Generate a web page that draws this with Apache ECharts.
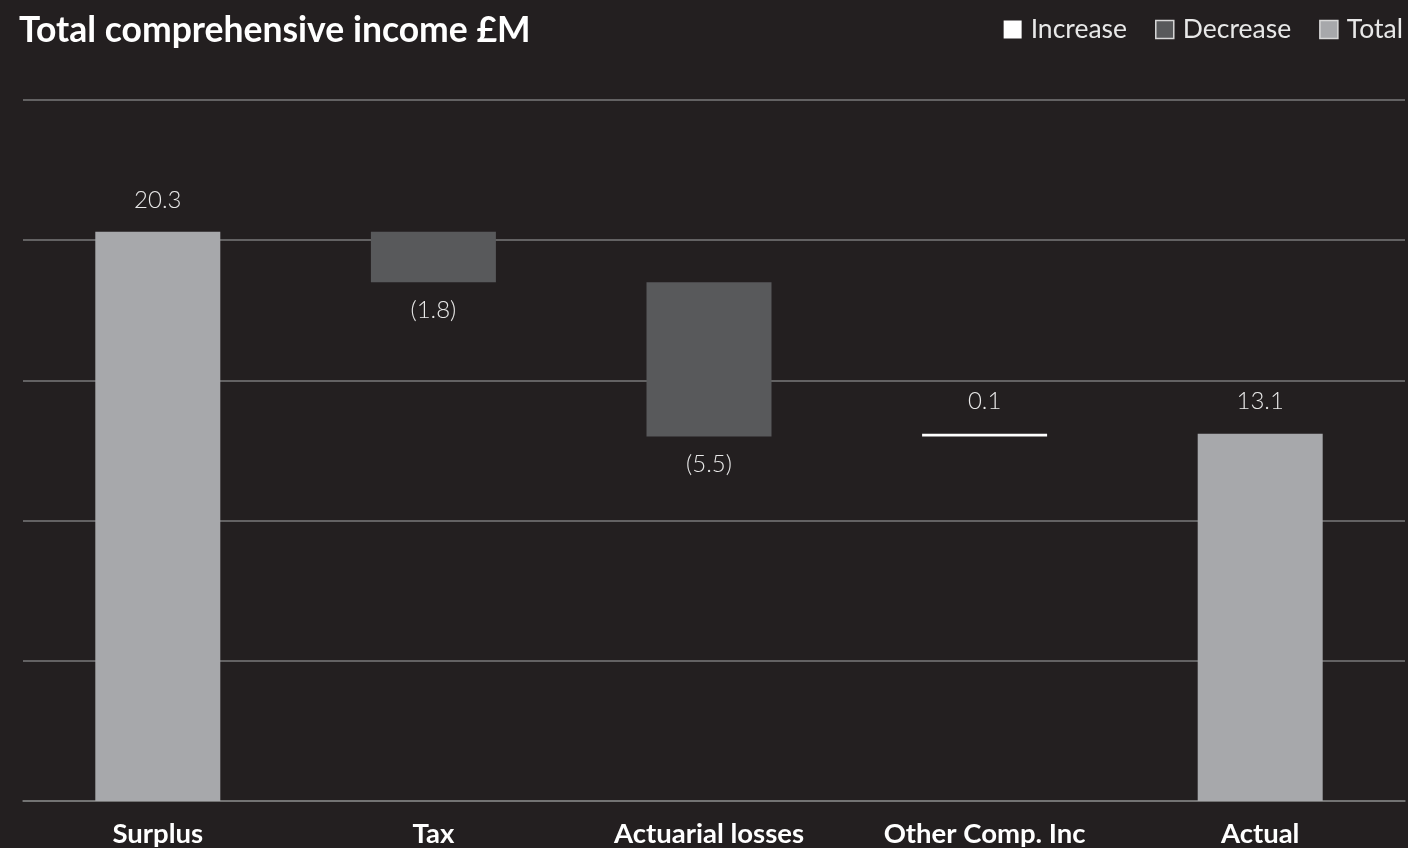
<!DOCTYPE html>
<html>
<head>
<meta charset="utf-8">
<style>
  html, body { margin: 0; padding: 0; background: #231f20; }
  #chart { width: 1408px; height: 848px; }
</style>
<script src="https://cdn.jsdelivr.net/npm/echarts@6/dist/echarts.min.js"></script>
</head>
<body>
<div id="chart"></div>
<script>
// Waterfall of total comprehensive income (£M)
const categories = ['Surplus', 'Tax', 'Actuarial losses', 'Other Comp. Inc', 'Actual'];
const values = [20.3, -1.8, -5.5, 0.1, 13.1];
const kinds = ['total', 'decrease', 'decrease', 'increase', 'total'];
const yTicks = [0, 5, 10, 15, 20, 25];

const COLORS = { increase: '#ffffff', decrease: '#58595b', total: '#a7a8ab' };
const FONT = 'Lato, "Open Sans", sans-serif';
const GRID_LINE = '#7a7a7a';

// Running level: totals start from zero, changes float from the running level
const baseData = [], incData = [], decData = [], totData = [];
let level = 0;
values.forEach((v, i) => {
  const k = kinds[i];
  if (k === 'total') {
    baseData.push(0); totData.push(v); incData.push('-'); decData.push('-');
    level = v;
  } else if (k === 'increase') {
    baseData.push(level); incData.push(v); decData.push('-'); totData.push('-');
    level += v;
  } else {
    level += v;
    baseData.push(level); decData.push(-v); incData.push('-'); totData.push('-');
  }
});

function fmt(v) {
  return v < 0 ? '(' + Math.abs(v).toFixed(1) + ')' : v.toFixed(1);
}

const labelStyle = {
  show: true,
  color: '#e8e8e8',
  fontFamily: FONT,
  fontWeight: 300,
  fontSize: 24,
  formatter: p => fmt(values[p.dataIndex])
};

const yMin = yTicks[0], yMax = yTicks[yTicks.length - 1], yStep = yTicks[1] - yTicks[0];

const chart = echarts.init(document.getElementById('chart'), null, { renderer: 'canvas' });
chart.setOption({
  backgroundColor: '#231f20',
  animation: false,
  title: {
    text: 'Total comprehensive income £M',
    left: 14,
    top: 8,
    textStyle: { color: '#ffffff', fontFamily: FONT, fontWeight: 'bold', fontSize: 35.5 }
  },
  legend: {
    right: 0,
    top: 11,
    itemWidth: 18,
    itemHeight: 18,
    itemGap: 28,
    icon: 'rect',
    textStyle: { color: '#e8e8e8', fontFamily: FONT, fontSize: 26.5, padding: [0, 0, 0, 4] },
    data: [
      { name: 'Increase', itemStyle: { color: COLORS.increase, borderWidth: 0 } },
      { name: 'Decrease', itemStyle: { color: COLORS.decrease, borderColor: '#d8d8d8', borderWidth: 1.5 } },
      { name: 'Total', itemStyle: { color: COLORS.total, borderColor: '#d8d8d8', borderWidth: 1.5 } }
    ]
  },
  grid: [
    // bars
    { left: 20, right: 10, top: 100, bottom: 47, outerBoundsMode: 'none' },
    // gridlines and baseline
    { left: 23, right: 3, top: 100, bottom: 47, outerBoundsMode: 'none' }
  ],
  xAxis: [
    {
      type: 'category',
      gridIndex: 0,
      data: categories,
      axisLine: { show: false },
      axisTick: { show: false },
      axisLabel: { color: '#ffffff', fontFamily: FONT, fontWeight: 'bold', fontSize: 27.5, margin: 19 }
    },
    {
      type: 'value',
      gridIndex: 1,
      min: 0, max: 1,
      axisLine: { show: true, onZero: false, lineStyle: { color: GRID_LINE, width: 1.5 } },
      axisTick: { show: false },
      axisLabel: { show: false },
      splitLine: { show: false }
    }
  ],
  yAxis: [
    {
      type: 'value',
      gridIndex: 0,
      min: yMin, max: yMax, interval: yStep,
      axisLabel: { show: false },
      axisLine: { show: false },
      axisTick: { show: false },
      splitLine: { show: false }
    },
    {
      type: 'value',
      gridIndex: 1,
      min: yMin, max: yMax, interval: yStep,
      axisLabel: { show: false },
      axisLine: { show: false },
      axisTick: { show: false },
      splitLine: { lineStyle: { color: GRID_LINE, width: 1.5 } }
    }
  ],
  series: [
    {
      name: 'base', type: 'bar', stack: 'wf', barWidth: 125, silent: true,
      xAxisIndex: 0, yAxisIndex: 0,
      itemStyle: { color: 'transparent' },
      data: baseData
    },
    {
      name: 'Increase', type: 'bar', stack: 'wf', barWidth: 125,
      xAxisIndex: 0, yAxisIndex: 0,
      itemStyle: { color: COLORS.increase },
      label: Object.assign({}, labelStyle, { position: 'top', distance: 20 }),
      data: incData
    },
    {
      name: 'Decrease', type: 'bar', stack: 'wf', barWidth: 125,
      xAxisIndex: 0, yAxisIndex: 0,
      itemStyle: { color: COLORS.decrease },
      label: Object.assign({}, labelStyle, { position: 'bottom', distance: 16 }),
      data: decData
    },
    {
      name: 'Total', type: 'bar', stack: 'wf', barWidth: 125,
      xAxisIndex: 0, yAxisIndex: 0,
      itemStyle: { color: COLORS.total },
      label: Object.assign({}, labelStyle, { position: 'top', distance: 20 }),
      data: totData
    }
  ]
});
</script>
</body>
</html>
